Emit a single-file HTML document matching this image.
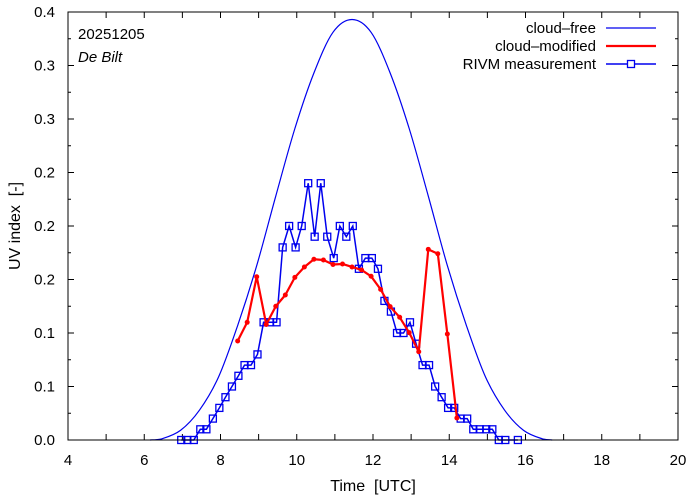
<!DOCTYPE html>
<html><head><meta charset="utf-8">
<style>
html,body{margin:0;padding:0;background:#fff;}
svg{display:block;font-family:"Liberation Sans",sans-serif;}
.pre{white-space:pre;}
</style></head>
<body>
<svg id="chart" width="694" height="501" viewBox="0 0 694 501" xmlns="http://www.w3.org/2000/svg"></svg>
<script>
// ---- data ----
const clearTimes = [6.15, 6.45, 6.95, 7.45, 7.95, 8.45, 8.95, 9.45, 9.95, 10.45, 10.95, 11.45, 11.95, 12.45, 12.95, 13.45, 13.95, 14.45, 14.95, 15.45, 15.95, 16.45, 16.7];
const clearValues = [0.0, 0.001, 0.009, 0.028, 0.059, 0.107, 0.163, 0.228, 0.291, 0.343, 0.381, 0.393, 0.381, 0.343, 0.291, 0.228, 0.163, 0.107, 0.059, 0.028, 0.009, 0.001, 0.0];

const modTimes = [8.45, 8.7, 8.95, 9.2, 9.45, 9.7, 9.95, 10.2, 10.45, 10.7, 10.95, 11.2, 11.45, 11.7, 11.95, 12.2, 12.45, 12.7, 12.95, 13.2, 13.45, 13.7, 13.95, 14.2];
const modValues = [0.0925, 0.110, 0.1526, 0.108, 0.125, 0.1355, 0.152, 0.1617, 0.1689, 0.1682, 0.164, 0.1645, 0.1617, 0.1589, 0.153, 0.1408, 0.1246, 0.1147, 0.1003, 0.0825, 0.1782, 0.1741, 0.0991, 0.0206];

const measTimes = [6.97, 7.13, 7.3, 7.47, 7.63, 7.8, 7.97, 8.13, 8.3, 8.47, 8.63, 8.8, 8.97, 9.13, 9.3, 9.47, 9.63, 9.8, 9.97, 10.13, 10.3, 10.47, 10.63, 10.8, 10.97, 11.13, 11.3, 11.47, 11.63, 11.8, 11.97, 12.13, 12.3, 12.47, 12.63, 12.8, 12.97, 13.13, 13.3, 13.47, 13.63, 13.8, 13.97, 14.13, 14.3, 14.47, 14.63, 14.8, 14.97, 15.13, 15.3, 15.47, 15.8];
const measValues = [0.0, 0.0, 0.0, 0.01, 0.01, 0.02, 0.03, 0.04, 0.05, 0.06, 0.07, 0.07, 0.08, 0.11, 0.11, 0.11, 0.18, 0.20, 0.18, 0.20, 0.24, 0.19, 0.24, 0.19, 0.17, 0.20, 0.19, 0.20, 0.16, 0.17, 0.17, 0.16, 0.13, 0.12, 0.10, 0.10, 0.11, 0.09, 0.07, 0.07, 0.05, 0.04, 0.03, 0.03, 0.02, 0.02, 0.01, 0.01, 0.01, 0.01, 0.0, 0.0, 0.0];

const xTicks = [4, 6, 8, 10, 12, 14, 16, 18, 20];
const yTicks = [0, 0.05, 0.1, 0.15, 0.2, 0.25, 0.3, 0.35, 0.4];
const yTickLabels = ["0.0", "0.1", "0.1", "0.2", "0.2", "0.2", "0.3", "0.3", "0.4"];

// ---- layout ----
const L = 68, R = 678, T = 12, B = 440;
const xMin = 4, xMax = 20, yMin = 0, yMax = 0.4;
const sx = v => L + (v - xMin) / (xMax - xMin) * (R - L);
const sy = v => B - (v - yMin) / (yMax - yMin) * (B - T);
const NS = "http://www.w3.org/2000/svg";
const svg = document.getElementById('chart');
function mk(tag, attrs, parent) {
  const e = document.createElementNS(NS, tag);
  for (const k in attrs) e.setAttribute(k, attrs[k]);
  (parent || svg).appendChild(e);
  return e;
}

// ticks
const ticks = mk('g', {});


for (let h = xMin; h <= xMax; h++) {
  const x = sx(h);
  mk('line', {x1: x, y1: B, x2: x, y2: B - 6, stroke: '#000', 'stroke-width': 1}, ticks);
  mk('line', {x1: x, y1: T, x2: x, y2: T + 6, stroke: '#000', 'stroke-width': 1}, ticks);
}
yTicks.forEach((v, i) => {
  const y = sy(v);
  mk('line', {x1: L, y1: y, x2: L + 6, y2: y, stroke: '#000', 'stroke-width': 1}, ticks);
  mk('line', {x1: R, y1: y, x2: R - 6, y2: y, stroke: '#000', 'stroke-width': 1}, ticks);
  if (i < yTicks.length - 1) {
    const ym = sy((v + yTicks[i + 1]) / 2);
    mk('line', {x1: L, y1: ym, x2: L + 3, y2: ym, stroke: '#000', 'stroke-width': 1}, ticks);
    mk('line', {x1: R, y1: ym, x2: R - 3, y2: ym, stroke: '#000', 'stroke-width': 1}, ticks);
  }
});
// tick labels
xTicks.forEach(v => {
  const t = mk('text', {x: sx(v), y: B + 25, 'text-anchor': 'middle', 'font-size': 15, fill: '#000'});
  
  
  t.textContent = v;
});
yTicks.forEach((v, i) => {
  const t = mk('text', {x: 55, y: sy(v) + 5, 'text-anchor': 'end', 'font-size': 15, fill: '#000'});
  
  
  t.textContent = yTickLabels[i];
});

// axis titles
const xt = mk('text', {x: (L + R) / 2, y: 491, 'text-anchor': 'middle', 'font-size': 16, fill: '#000', class: 'pre'});


xt.textContent = 'Time  [UTC]';
const yt = mk('text', {x: 0, y: 0, transform: 'translate(20,' + ((T + B) / 2) + ') rotate(-90)', 'text-anchor': 'middle', 'font-size': 16, fill: '#000', class: 'pre'});


yt.textContent = 'UV index  [-]';

// smooth curve helper (catmull-rom)
function smoothPath(pts) {
  let d = 'M' + pts[0][0] + ',' + pts[0][1];
  for (let i = 0; i < pts.length - 1; i++) {
    const p0 = pts[i - 1] || pts[i], p1 = pts[i], p2 = pts[i + 1], p3 = pts[i + 2] || p2;
    const c1x = p1[0] + (p2[0] - p0[0]) / 6, c1y = p1[1] + (p2[1] - p0[1]) / 6;
    const c2x = p2[0] - (p3[0] - p1[0]) / 6, c2y = p2[1] - (p3[1] - p1[1]) / 6;
    d += ' C' + c1x + ',' + Math.min(c1y, B) + ' ' + c2x + ',' + Math.min(c2y, B) + ' ' + p2[0] + ',' + p2[1];
  }
  return d;
}

// cloud-free
const cf = mk('path', {d: smoothPath(clearTimes.map((t, i) => [sx(t), sy(clearValues[i])])), fill: 'none', stroke: '#0000ee', 'stroke-width': 1.2});



// measurement
const mg = mk('g', {});


mk('polyline', {points: measTimes.map((t, i) => sx(t) + ',' + sy(measValues[i])).join(' '), fill: 'none', stroke: '#0000ee', 'stroke-width': 1.5}, mg);
measTimes.forEach((t, i) => {
  const r = mk('rect', {x: sx(t) - 3.5, y: sy(measValues[i]) - 3.5, width: 7, height: 7, fill: 'none', stroke: '#0000ee', 'stroke-width': 1.3}, mg);
  
  
});

// cloud-modified
const rg = mk('g', {});


mk('polyline', {points: modTimes.map((t, i) => sx(t) + ',' + sy(modValues[i])).join(' '), fill: 'none', stroke: '#ff0000', 'stroke-width': 2.2, 'stroke-linejoin': 'round'}, rg);
modTimes.forEach((t, i) => {
  const c = mk('circle', {cx: sx(t), cy: sy(modValues[i]), r: 2.5, fill: '#ff0000'}, rg);
  
  
});

// frame
const fr = mk('rect', {x: L, y: T, width: R - L, height: B - T, fill: 'none', stroke: '#000', 'stroke-width': 1});



// annotations
const d1 = mk('text', {x: 78, y: 39, 'font-size': 15, fill: '#000'});


d1.textContent = '20251205';
const d2 = mk('text', {x: 78, y: 62, 'font-size': 15, 'font-style': 'italic', fill: '#000'});


d2.textContent = 'De Bilt';

// legend
const lg = mk('g', {});


const legendNames = ['cloud\u2013free', 'cloud\u2013modified', 'RIVM measurement'];
const legendColors = ['#0000ee', '#ff0000', '#0000ee'];
const legendWidths = [1.2, 2.2, 1.5];
legendNames.forEach((n, i) => {
  const y = 28 + i * 18;
  const e = mk('g', {}, lg);
  
  
  const t = mk('text', {x: 596, y: y + 5, 'text-anchor': 'end', 'font-size': 15, fill: '#000'}, e);
  t.textContent = n;
  mk('line', {x1: 606, y1: y, x2: 656, y2: y, stroke: legendColors[i], 'stroke-width': legendWidths[i]}, e);
  if (i === 2) mk('rect', {x: 627.5, y: y - 3.5, width: 7, height: 7, fill: '#fff', stroke: '#0000ee', 'stroke-width': 1.3}, e);
});
</script>
</body></html>
